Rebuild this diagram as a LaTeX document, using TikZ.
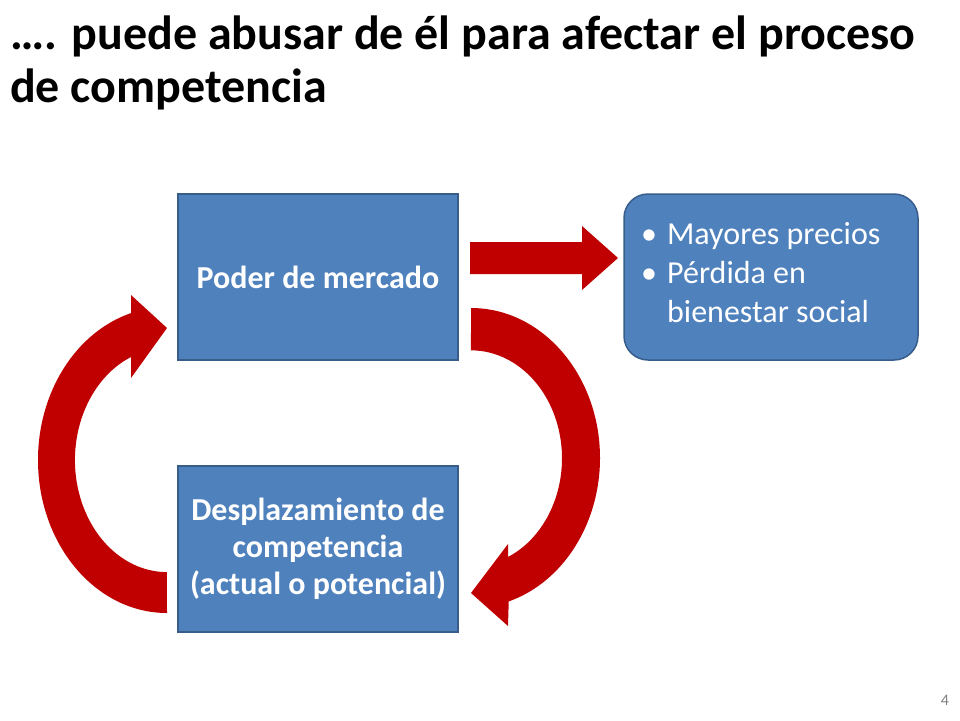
\documentclass[tikz,border=0pt]{standalone}
\usepackage{fontspec}
\setmainfont{Carlito}
\begin{document}
\begin{tikzpicture}[x=1pt,y=-1pt,
  box/.style={draw=boxline,fill=boxfill,line width=1.5pt,text=white,align=center,font=\fontsize{32}{37}\selectfont\bfseries},
  redarrow/.style={fill=arrowred}]
\definecolor{boxfill}{HTML}{4F81BD}
\definecolor{boxline}{HTML}{385D8A}
\definecolor{arrowred}{HTML}{C00000}
\useasboundingbox (0,0) rectangle (960,720);
\node[anchor=north west,align=left,font=\fontsize{48}{53}\selectfont\bfseries,inner sep=0] (title) at (10,16) {…. puede abusar de él para afectar el proceso\\de competencia};
\node[box,minimum width=280pt,minimum height=166pt] (poder) at (318,277) {Poder de mercado};
\node[box,minimum width=280pt,minimum height=166pt] (despl) at (318,549) {Desplazamiento de\\competencia\\(actual o potencial)};
\node[box,rounded corners=24pt,minimum width=294pt,minimum height=166pt] (res) at (771,277) {};
\node[anchor=north west,text=white,font=\fontsize{32}{39}\selectfont,align=left,inner sep=0] (bul) at (641,222)
 {•\hspace{10pt}Mayores precios\\•\hspace{10pt}Pérdida en\\\hphantom{•}\hspace{10pt}bienestar social};
% straight arrow
\fill[redarrow] (470,242) -- (582,242) -- (582,226) -- (618,258) -- (582,290) -- (582,274) -- (470,274) -- cycle;
% right curved arrow
\fill[redarrow] (471,308) arc[start angle=-90,end angle=73,x radius=129,y radius=150]
  -- (508,626) -- (471,593) -- (508,544) -- (508,557)
  arc[start angle=66,end angle=-90,x radius=91,y radius=108] -- cycle;
% left curved arrow
\fill[redarrow] (167,613) arc[start angle=90,end angle=253.8,x radius=129,y radius=153]
  -- (131,295) -- (167,328) -- (131,378) -- (131,357)
  arc[start angle=247,end angle=90,x radius=92,y radius=112] -- cycle;
\node[text=gray,font=\fontsize{16}{18}\selectfont] (pg) at (945,700) {4};
\end{tikzpicture}
\end{document}
